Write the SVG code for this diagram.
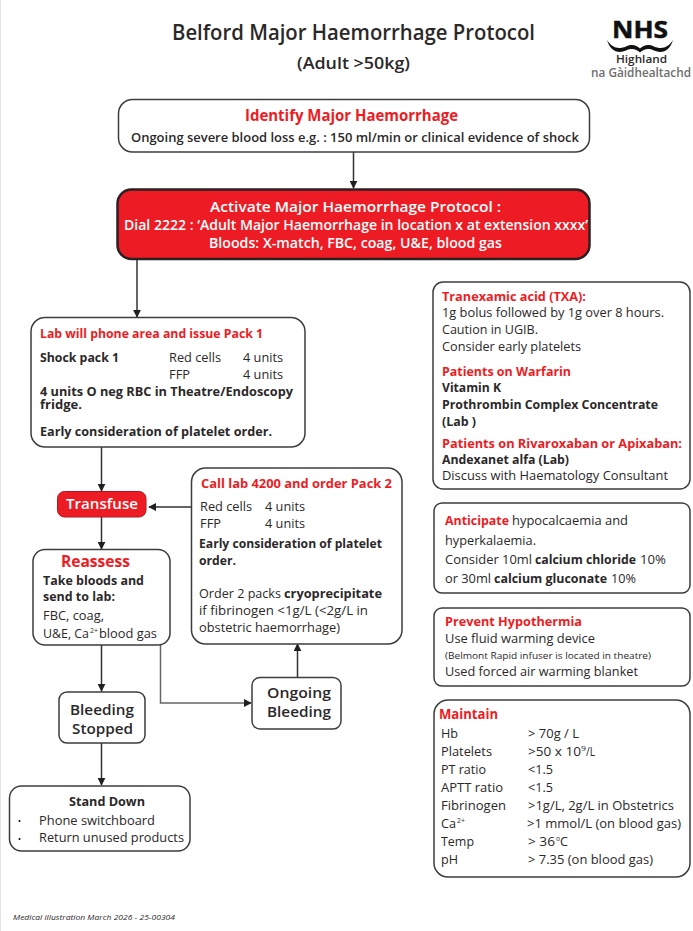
<svg xmlns="http://www.w3.org/2000/svg" width="693" height="931" viewBox="0 0 693 931">
<style>
text{font-family:"Open Sans","Noto Sans","Liberation Sans",sans-serif;fill:#2b2829;font-size:12.5px}
.b{font-weight:700}
.s{font-weight:600}
.r{fill:#ed1c24;font-weight:700;font-size:13px}
.w{fill:#fff;font-weight:600;font-size:14px}
.box{fill:#fff;stroke:#3d3d3d;stroke-width:1.5}
.lines{fill:none;stroke:#333;stroke-width:1.5}
.sup{font-size:7.5px}
.n{font-size:14px;font-weight:600}
</style>
<defs>
<marker id="ah" viewBox="0 0 10 10" refX="9" refY="5" markerWidth="8" markerHeight="8" markerUnits="userSpaceOnUse" orient="auto"><path d="M0 0L10 5L0 10Z" fill="#231f20"/></marker>
</defs>
<rect width="693" height="931" fill="#fff"/>
<line x1="0.5" y1="0" x2="0.5" y2="931" stroke="#e4e4e4"/>

<g id="header">
<text x="172" y="40" textLength="363" lengthAdjust="spacingAndGlyphs" class="s" style="font-size:21px">Belford Major Haemorrhage Protocol</text>
<text x="297" y="69" textLength="113" lengthAdjust="spacingAndGlyphs" class="s" style="font-size:16px">(Adult &gt;50kg)</text>
</g>

<g id="logo">
<text x="612" y="38" textLength="56" lengthAdjust="spacingAndGlyphs" class="b" style="font-size:24px;fill:#111;stroke:#111;stroke-width:.5">NHS</text>
<path d="M607 40C611 47 618 50 626 46.500C632 44 636 45 640 48.500C644 45 648 44 654 46.500C662 50 669 47 673 40C670 51 662 54 654 50.500C648 48 644 49 640 52.500C636 49 632 48 626 50.500C618 54 610 51 607 40Z" fill="#111"/>
<text x="616" y="63" textLength="51" lengthAdjust="spacingAndGlyphs" class="s" style="font-size:11.500px">Highland</text>
<text x="591" y="77" textLength="100" lengthAdjust="spacingAndGlyphs" class="s" style="font-size:12px;fill:#6d6e70">na Gàidhealtachd</text>
</g>

<g id="connectors" class="lines">
<path d="M353.500 152V188" marker-end="url(#ah)"/>
<path d="M137 259V317" marker-end="url(#ah)"/>
<path d="M101.500 447V491" marker-end="url(#ah)"/>
<path d="M191 507H149" marker-end="url(#ah)"/>
<path d="M101.500 517V549" marker-end="url(#ah)"/>
<path d="M101.500 645V691" marker-end="url(#ah)"/>
<path d="M101.500 743V785" marker-end="url(#ah)"/>
<path d="M160.500 645V703H251" stroke="#666" marker-end="url(#ah)"/>
<path d="M297.500 677V644" marker-end="url(#ah)"/>
</g>

<g id="identify">
<rect class="box" x="118.500" y="99.500" width="471" height="52.500" rx="14"/>
<text x="245" y="120.500" textLength="213" lengthAdjust="spacingAndGlyphs" class="r" style="font-size:16px">Identify Major Haemorrhage</text>
<text x="131" y="142" textLength="448" lengthAdjust="spacingAndGlyphs" class="s">Ongoing severe blood loss e.g. : 150 ml/min or clinical evidence of shock</text>
</g>

<g id="activate">
<rect x="117.500" y="189.500" width="472" height="69.500" rx="14" fill="#ed1c24" stroke="#2b2023" stroke-width="2.500"/>
<text x="210" y="212" textLength="291" lengthAdjust="spacingAndGlyphs" class="w" style="font-size:15px">Activate Major Haemorrhage Protocol :</text>
<text x="124" y="230" textLength="464" lengthAdjust="spacingAndGlyphs" class="w">Dial 2222 : ‘Adult Major Haemorrhage in location x at extension xxxx’</text>
<text x="209" y="248" textLength="293" lengthAdjust="spacingAndGlyphs" class="w">Bloods: X-match, FBC, coag, U&amp;E,  blood gas</text>
</g>

<g id="pack1">
<rect class="box" x="31" y="317.500" width="274" height="129.500" rx="14"/>
<text x="40" y="338" textLength="223" lengthAdjust="spacingAndGlyphs" class="r">Lab will phone area and issue Pack 1</text>
<text x="40" y="362" textLength="79" lengthAdjust="spacingAndGlyphs" class="b">Shock pack 1</text>
<text x="169" y="362" textLength="52" lengthAdjust="spacingAndGlyphs">Red cells</text>
<text x="243" y="362" textLength="40" lengthAdjust="spacingAndGlyphs">4 units</text>
<text x="169" y="379" textLength="21" lengthAdjust="spacingAndGlyphs">FFP</text>
<text x="243" y="379" textLength="40" lengthAdjust="spacingAndGlyphs">4 units</text>
<text x="40" y="396" textLength="253" lengthAdjust="spacingAndGlyphs" class="b">4 units O neg RBC in Theatre/Endoscopy</text>
<text x="40" y="409" textLength="42" lengthAdjust="spacingAndGlyphs" class="b">fridge.</text>
<text x="40" y="436" textLength="232" lengthAdjust="spacingAndGlyphs" class="b">Early consideration of platelet order.</text>
</g>

<g id="transfuse">
<rect x="57.500" y="491.500" width="88.500" height="25.500" rx="7" fill="#ed1c24" stroke="#b5161c"/>
<text x="66" y="509" textLength="72" lengthAdjust="spacingAndGlyphs" class="w b" style="font-size:15px">Transfuse</text>
</g>

<g id="pack2">
<rect class="box" x="191.500" y="468" width="210.500" height="176" rx="14"/>
<text x="201" y="488" textLength="191" lengthAdjust="spacingAndGlyphs" class="r">Call lab 4200 and order Pack 2</text>
<text x="200" y="511" textLength="52" lengthAdjust="spacingAndGlyphs">Red cells</text>
<text x="265" y="511" textLength="40" lengthAdjust="spacingAndGlyphs">4 units</text>
<text x="200" y="528" textLength="21" lengthAdjust="spacingAndGlyphs">FFP</text>
<text x="265" y="528" textLength="40" lengthAdjust="spacingAndGlyphs">4 units</text>
<text x="199" y="548" textLength="183" lengthAdjust="spacingAndGlyphs" class="b">Early consideration of platelet</text>
<text x="199" y="565" textLength="37" lengthAdjust="spacingAndGlyphs" class="b">order.</text>
<text x="199" y="598" textLength="82" lengthAdjust="spacingAndGlyphs">Order 2 packs</text>
<text x="284" y="598" textLength="98" lengthAdjust="spacingAndGlyphs" class="b">cryoprecipitate</text>
<text x="199" y="615" textLength="169" lengthAdjust="spacingAndGlyphs">if fibrinogen &lt;1g/L (&lt;2g/L in</text>
<text x="199" y="632" textLength="141" lengthAdjust="spacingAndGlyphs">obstetric haemorrhage)</text>
</g>

<g id="reassess">
<rect class="box" x="33" y="549.500" width="137" height="95.500" rx="12"/>
<text x="61" y="567" textLength="69" lengthAdjust="spacingAndGlyphs" class="r" style="font-size:16px">Reassess</text>
<text x="43" y="585" textLength="101" lengthAdjust="spacingAndGlyphs" class="b">Take bloods and</text>
<text x="43" y="601" textLength="72" lengthAdjust="spacingAndGlyphs" class="b">send to lab:</text>
<text x="43" y="620" textLength="61" lengthAdjust="spacingAndGlyphs">FBC, coag,</text>
<text x="43" y="638" textLength="46" lengthAdjust="spacingAndGlyphs">U&amp;E, Ca</text>
<text x="90" y="633" textLength="8" lengthAdjust="spacingAndGlyphs" class="sup">2+</text>
<text x="99" y="638" textLength="58" lengthAdjust="spacingAndGlyphs">blood gas</text>
</g>

<g id="bleeding-stopped">
<rect class="box" x="59" y="692" width="86" height="51" rx="8"/>
<text x="70" y="715" textLength="64" lengthAdjust="spacingAndGlyphs" class="n">Bleeding</text>
<text x="72" y="734" textLength="61" lengthAdjust="spacingAndGlyphs" class="n">Stopped</text>
</g>

<g id="ongoing-bleeding">
<rect class="box" x="252" y="677.500" width="89" height="51.500" rx="8"/>
<text x="267" y="698" textLength="64" lengthAdjust="spacingAndGlyphs" class="n">Ongoing</text>
<text x="267" y="717" textLength="64" lengthAdjust="spacingAndGlyphs" class="n">Bleeding</text>
</g>

<g id="stand-down">
<rect class="box" x="9.500" y="786" width="180.500" height="65" rx="12"/>
<text x="69" y="806" textLength="76" lengthAdjust="spacingAndGlyphs" class="b">Stand Down</text>
<circle cx="19.500" cy="821" r="1"/>
<text x="39" y="825" textLength="116" lengthAdjust="spacingAndGlyphs">Phone switchboard</text>
<circle cx="19.500" cy="839" r="1"/>
<text x="39" y="842" textLength="145" lengthAdjust="spacingAndGlyphs">Return unused products</text>
</g>

<g id="drugs">
<rect class="box" x="433" y="282" width="257" height="207" rx="10"/>
<text x="442" y="301" textLength="144" lengthAdjust="spacingAndGlyphs" class="r">Tranexamic acid (TXA):</text>
<text x="442" y="317" textLength="222" lengthAdjust="spacingAndGlyphs">1g bolus followed by 1g over 8 hours.</text>
<text x="442" y="334" textLength="96" lengthAdjust="spacingAndGlyphs">Caution in UGIB.</text>
<text x="442" y="351" textLength="139" lengthAdjust="spacingAndGlyphs">Consider early platelets</text>
<text x="442" y="376" textLength="129" lengthAdjust="spacingAndGlyphs" class="r">Patients on Warfarin</text>
<text x="442" y="392" textLength="59" lengthAdjust="spacingAndGlyphs" class="b">Vitamin K</text>
<text x="442" y="409" textLength="216" lengthAdjust="spacingAndGlyphs" class="b">Prothrombin Complex Concentrate</text>
<text x="442" y="426" textLength="34" lengthAdjust="spacingAndGlyphs" class="b">(Lab )</text>
<text x="442" y="448" textLength="240" lengthAdjust="spacingAndGlyphs" class="r">Patients on Rivaroxaban or Apixaban:</text>
<text x="442" y="464" textLength="127" lengthAdjust="spacingAndGlyphs" class="b">Andexanet alfa (Lab)</text>
<text x="442" y="480" textLength="226" lengthAdjust="spacingAndGlyphs">Discuss with Haematology Consultant</text>
</g>

<g id="anticipate">
<rect class="box" x="434" y="503" width="256" height="90" rx="8"/>
<text x="445" y="525" textLength="64" lengthAdjust="spacingAndGlyphs" class="r">Anticipate</text>
<text x="512" y="525" textLength="116" lengthAdjust="spacingAndGlyphs">hypocalcaemia and</text>
<text x="445" y="545" textLength="91" lengthAdjust="spacingAndGlyphs">hyperkalaemia.</text>
<text x="445" y="564" textLength="87" lengthAdjust="spacingAndGlyphs">Consider 10ml</text>
<text x="535" y="564" textLength="101" lengthAdjust="spacingAndGlyphs" class="b">calcium chloride</text>
<text x="640" y="564" textLength="26" lengthAdjust="spacingAndGlyphs">10%</text>
<text x="445" y="583" textLength="46" lengthAdjust="spacingAndGlyphs">or 30ml</text>
<text x="494" y="583" textLength="113" lengthAdjust="spacingAndGlyphs" class="b">calcium gluconate</text>
<text x="611" y="583" textLength="25" lengthAdjust="spacingAndGlyphs">10%</text>
</g>

<g id="hypothermia">
<rect class="box" x="434" y="608" width="256" height="78" rx="8"/>
<text x="445" y="626" textLength="137" lengthAdjust="spacingAndGlyphs" class="r">Prevent Hypothermia</text>
<text x="445" y="643" textLength="150" lengthAdjust="spacingAndGlyphs">Use fluid warming device</text>
<text x="445" y="659" textLength="206" lengthAdjust="spacingAndGlyphs" style="font-size:9.500px">(Belmont Rapid infuser is located in theatre)</text>
<text x="445" y="676" textLength="193" lengthAdjust="spacingAndGlyphs">Used forced air warming blanket</text>
</g>

<g id="maintain">
<rect class="box" x="434" y="700" width="256" height="177" rx="14"/>
<text x="439" y="719" textLength="59" lengthAdjust="spacingAndGlyphs" class="r" style="font-size:15px">Maintain</text>
<text x="441" y="738" textLength="17" lengthAdjust="spacingAndGlyphs">Hb</text>
<text x="528" y="738" textLength="51" lengthAdjust="spacingAndGlyphs">&gt; 70g / L</text>
<text x="441" y="756" textLength="51" lengthAdjust="spacingAndGlyphs">Platelets</text>
<text x="528" y="756" textLength="53" lengthAdjust="spacingAndGlyphs">&gt;50 x 10</text>
<text x="581" y="751" textLength="5" lengthAdjust="spacingAndGlyphs" class="sup">9</text>
<text x="586" y="756" textLength="9" lengthAdjust="spacingAndGlyphs">/L</text>
<text x="441" y="774" textLength="45" lengthAdjust="spacingAndGlyphs">PT ratio</text>
<text x="528" y="774" textLength="25" lengthAdjust="spacingAndGlyphs">&lt;1.5</text>
<text x="441" y="792" textLength="62" lengthAdjust="spacingAndGlyphs">APTT ratio</text>
<text x="528" y="792" textLength="25" lengthAdjust="spacingAndGlyphs">&lt;1.5</text>
<text x="441" y="810" textLength="65" lengthAdjust="spacingAndGlyphs">Fibrinogen</text>
<text x="528" y="810" textLength="146" lengthAdjust="spacingAndGlyphs">&gt;1g/L, 2g/L in Obstetrics</text>
<text x="441" y="828" textLength="15" lengthAdjust="spacingAndGlyphs">Ca</text>
<text x="457" y="823" textLength="8" lengthAdjust="spacingAndGlyphs" class="sup">2+</text>
<text x="527" y="828" textLength="154" lengthAdjust="spacingAndGlyphs">&gt;1 mmol/L (on blood gas)</text>
<text x="441" y="846" textLength="33" lengthAdjust="spacingAndGlyphs">Temp</text>
<text x="528" y="846" textLength="27" lengthAdjust="spacingAndGlyphs">&gt; 36</text>
<text x="556" y="841" textLength="4" lengthAdjust="spacingAndGlyphs" class="sup">o</text>
<text x="560" y="846" textLength="8" lengthAdjust="spacingAndGlyphs">C</text>
<text x="441" y="864" textLength="17" lengthAdjust="spacingAndGlyphs">pH</text>
<text x="528" y="864" textLength="125" lengthAdjust="spacingAndGlyphs">&gt; 7.35 (on blood gas)</text>
</g>

<g id="footer">
<text x="13" y="920" textLength="162" lengthAdjust="spacingAndGlyphs" style="font-size:8px;font-style:italic">Medical illustration March 2026 - 25-00304</text>
</g>
</svg>
